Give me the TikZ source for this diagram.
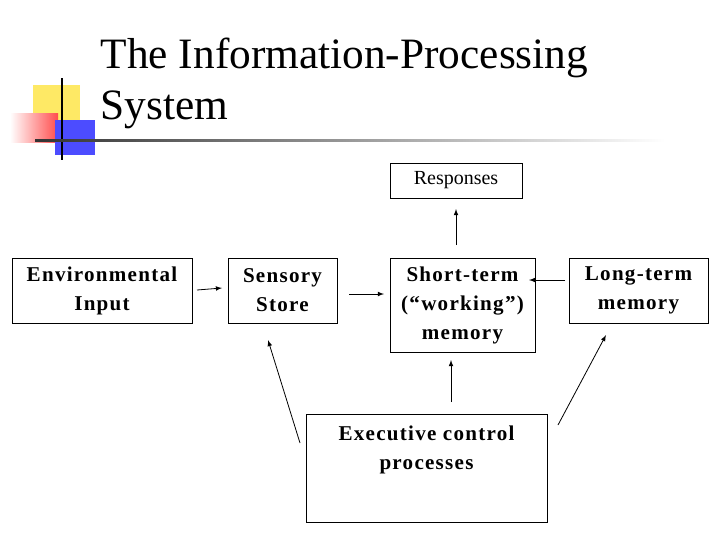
\documentclass[tikz,border=0pt]{standalone}
\usepackage{fontspec}
\setmainfont{Liberation Serif}
\newfontfamily\boxfont[LetterSpace=6,BoldFont={Liberation Serif Bold}]{Liberation Serif}
\begin{document}
\begin{tikzpicture}[x=0.75pt,y=-0.75pt,
  box/.style={draw,semithick,inner sep=0pt,font=\boxfont\fontsize{15.8}{21.75}\selectfont\bfseries,align=center},
  arr/.style={-latex,semithick}]
\useasboundingbox (0,0) rectangle (720,540);
% decoration
\fill[yellow!80!orange!60] (33,85) rectangle (80,125);
\shade[left color=white,right color=red!70] (10,113) rectangle (58,142);
\fill[blue!70] (55,120) rectangle (95,155);
\draw[very thick] (62,78) -- (62,160);
\shade[left color=black!80,right color=white] (35,139.5) rectangle (665,141);
% title
\node[anchor=west,font=\fontsize{32.5}{34}\selectfont] (t1) at (96,58) {The Information-Processing};
\node[anchor=west,font=\fontsize{32.5}{34}\selectfont] (t2) at (96,110) {System};
% boxes
\node[box,font=\fontsize{15}{18}\selectfont,minimum width=132*0.75pt,minimum height=35*0.75pt] (resp) at (456,180.5) {Responses};
\node[box,minimum width=180*0.75pt,minimum height=65*0.75pt] (env) at (102,290.5) {Environmental\\Input};
\node[box,minimum width=109*0.75pt,minimum height=65*0.75pt] (sens) at (282.5,290.5) {Sensory\\Store};
\node[box,minimum width=145*0.75pt,minimum height=94*0.75pt] (stm) at (462.5,305) {Short-term\\(“working”)\\memory};
\node[box,minimum width=139*0.75pt,minimum height=65*0.75pt] (ltm) at (638.5,290.5) {Long-term\\memory};
\node[draw,semithick,minimum width=241*0.75pt,minimum height=108*0.75pt] (exec) at (426.5,468) {};
\node[font=\boxfont\fontsize{15.8}{21.75}\selectfont\bfseries,align=center,anchor=north] (exect) at (426.5,421) {Executive control\\processes};
% arrows
\coordinate (a1s) at (197,290); \coordinate (a1e) at (222,288);
\coordinate (a2s) at (349,294); \coordinate (a2e) at (384,294);
\coordinate (a3s) at (565,280); \coordinate (a3e) at (529,280);
\coordinate (a4s) at (456,245); \coordinate (a4e) at (456,209);
\coordinate (a5s) at (451,402); \coordinate (a5e) at (451,360);
\coordinate (a6s) at (300,443); \coordinate (a6e) at (268,340);
\coordinate (a7s) at (558,425); \coordinate (a7e) at (606,335);
\foreach \i in {1,...,7} \draw[arr] (a\i s) -- (a\i e);
\end{tikzpicture}
\end{document}
